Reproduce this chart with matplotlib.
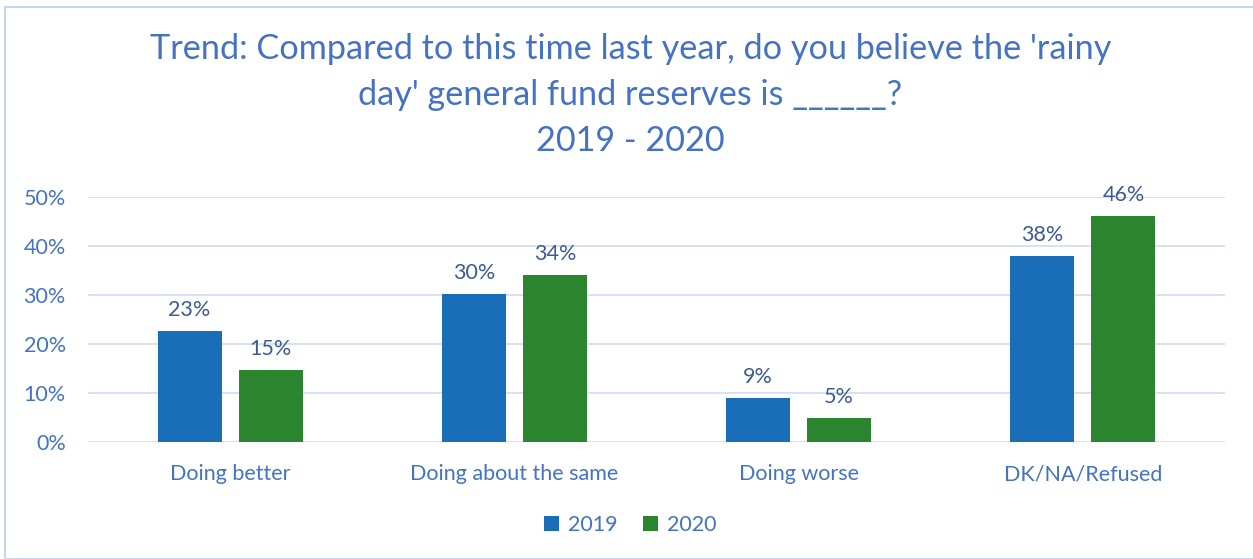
import numpy as np
import matplotlib
matplotlib.use("Agg")
from matplotlib import pyplot as plt
from matplotlib.patches import Rectangle

categories = ["Doing better", "Doing about the same", "Doing worse", "DK/NA/Refused"]
vals_2019 = [22.7, 30.2, 9.0, 38.0]
vals_2020 = [14.7, 34.1, 4.9, 46.1]
series_names = ["2019", "2020"]
yticks = [0, 10, 20, 30, 40, 50]

plt.rcParams['font.family'] = ['Lato', 'DejaVu Sans']

blue = '#1A6EB8'
green = '#2A852E'
text_blue = '#4472C4'
label_blue = '#3B5A96'
grid_col = '#D3DEF0'
fs = 15.5

fig = plt.figure(figsize=(12.53, 5.59), dpi=100)
fig.patches.append(Rectangle((5/1253, 0), 1.0, 1 - 7/559, transform=fig.transFigure,
                             fill=False, edgecolor='#C9D6EC', lw=1.5))

ax = fig.add_axes([88/1253, 1 - 442/559, 1137/1253, 245/559])
x = np.arange(len(categories))
w = 0.225
off = 0.1425
b1 = ax.bar(x - off, vals_2019, w, color=blue, label=series_names[0], zorder=3)
b2 = ax.bar(x + off, vals_2020, w, color=green, label=series_names[1], zorder=3)

for bars, vals in [(b1, vals_2019), (b2, vals_2020)]:
    for b, v in zip(bars, vals):
        ax.annotate("%.0f%%" % v, (b.get_x() + b.get_width()/2, v), xytext=(0, 8),
                    textcoords='offset points', ha='center', va='bottom',
                    fontsize=fs, color=label_blue)

ax.set_xlim(-0.5, 3.5)
ax.set_ylim(0, 50)
ax.set_yticks(yticks)
ax.set_yticklabels(["%d%%" % t for t in yticks])
ax.set_xticks(x)
ax.set_xticklabels(categories)
ax.tick_params(axis='y', length=0, pad=16, labelsize=fs, labelcolor=text_blue)
ax.tick_params(axis='x', length=0, pad=16, labelsize=fs, labelcolor=text_blue)
ax.grid(axis='y', color=grid_col, lw=1.3, zorder=0)
for s in ax.spines.values():
    s.set_visible(False)

fig.text(0.503, 1 - 95/559,
         "Trend: Compared to this time last year, do you believe the 'rainy\n"
         "day' general fund reserves is ______?\n2019 - 2020",
         ha='center', va='center', fontsize=24.7, color=text_blue, linespacing=1.55)

fig.legend(handles=[b1, b2], loc='center', bbox_to_anchor=(0.503, 1 - 525/559),
           ncol=2, frameon=False, fontsize=fs, labelcolor=text_blue,
           handlelength=0.7, handleheight=0.7, handletextpad=0.4, columnspacing=1.2)

fig.savefig("out.png", dpi=100)
